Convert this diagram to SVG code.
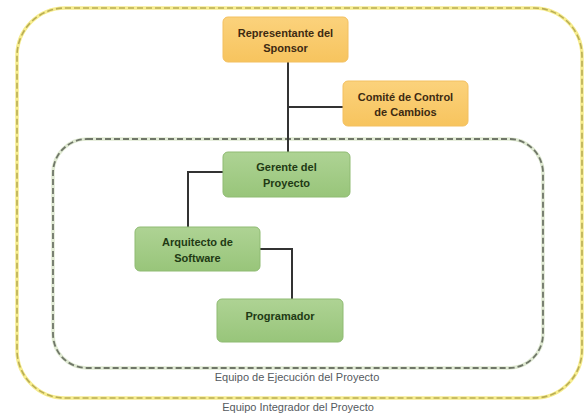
<svg xmlns="http://www.w3.org/2000/svg" width="584" height="419" viewBox="0 0 584 419">
  <defs>
    <linearGradient id="gOrange" x1="0" y1="0" x2="0" y2="1">
      <stop offset="0" stop-color="#fbd27c"/>
      <stop offset="1" stop-color="#f7c45e"/>
    </linearGradient>
    <linearGradient id="gGreen" x1="0" y1="0" x2="0" y2="1">
      <stop offset="0" stop-color="#aed394"/>
      <stop offset="1" stop-color="#98c57a"/>
    </linearGradient>
    <style>
      .halo-y { fill: none; stroke: #f6ec8e; stroke-width: 3.5; }
      .dash-y { fill: none; stroke: #b9ad55; stroke-width: 1.6; stroke-dasharray: 6 3; }
      .halo-g { fill: none; stroke: #dfe9d2; stroke-width: 3.5; }
      .dash-g { fill: none; stroke: #6f7668; stroke-width: 1.8; stroke-dasharray: 6 3; }
      .box-o { fill: url(#gOrange); stroke: #f3c060; stroke-width: 1; }
      .box-g { fill: url(#gGreen); stroke: #8fbb72; stroke-width: 1; }
      .lbl-o { font-family: "Liberation Sans", Arial, sans-serif; font-size: 11px; font-weight: bold; fill: #3d2a12; text-anchor: middle; }
      .lbl-g { font-family: "Liberation Sans", Arial, sans-serif; font-size: 11px; font-weight: bold; fill: #213a14; text-anchor: middle; }
      .team { font-family: "Liberation Sans", Arial, sans-serif; font-size: 11px; fill: #555a60; text-anchor: middle; }
      .conn { fill: none; stroke: #333333; stroke-width: 2; }
    </style>
  </defs>
  <rect width="584" height="419" fill="#ffffff"/>

  <!-- outer team boundary -->
  <g id="equipo-integrador">
    <rect class="halo-y" x="17" y="8" width="565" height="390" rx="48"/>
    <rect class="dash-y" x="17" y="8" width="565" height="390" rx="48"/>
    <text class="team" x="298" y="411">Equipo Integrador del Proyecto</text>
  </g>

  <!-- inner team boundary -->
  <g id="equipo-ejecucion">
    <rect class="halo-g" x="53" y="139" width="490" height="229" rx="34"/>
    <rect class="dash-g" x="53" y="139" width="490" height="229" rx="34"/>
    <text class="team" x="297" y="381">Equipo de Ejecución del Proyecto</text>
  </g>

  <!-- connectors -->
  <g id="connectors">
    <line class="conn" x1="288" y1="62" x2="288" y2="152"/>
    <line class="conn" x1="288" y1="107" x2="343" y2="107"/>
    <polyline class="conn" points="223,172 188,172 188,227"/>
    <polyline class="conn" points="260,249 292,249 292,299"/>
  </g>

  <g id="representante-sponsor">
    <rect class="box-o" x="223" y="17" width="125" height="45" rx="5"/>
    <text class="lbl-o" x="285.5" y="37">Representante del</text>
    <text class="lbl-o" x="285.5" y="52">Sponsor</text>
  </g>

  <g id="comite-control-cambios">
    <rect class="box-o" x="343" y="81" width="125" height="45" rx="5"/>
    <text class="lbl-o" x="405.5" y="101">Comité de Control</text>
    <text class="lbl-o" x="405.5" y="116">de Cambios</text>
  </g>

  <g id="gerente-proyecto">
    <rect class="box-g" x="223" y="152" width="127" height="45" rx="5"/>
    <text class="lbl-g" x="286.5" y="171">Gerente del</text>
    <text class="lbl-g" x="286.5" y="187">Proyecto</text>
  </g>

  <g id="arquitecto-software">
    <rect class="box-g" x="135" y="227" width="125" height="44" rx="5"/>
    <text class="lbl-g" x="197.5" y="246">Arquitecto de</text>
    <text class="lbl-g" x="197.5" y="262">Software</text>
  </g>

  <g id="programador">
    <rect class="box-g" x="217" y="299" width="126" height="43" rx="5"/>
    <text class="lbl-g" x="280" y="320">Programador</text>
  </g>
</svg>
